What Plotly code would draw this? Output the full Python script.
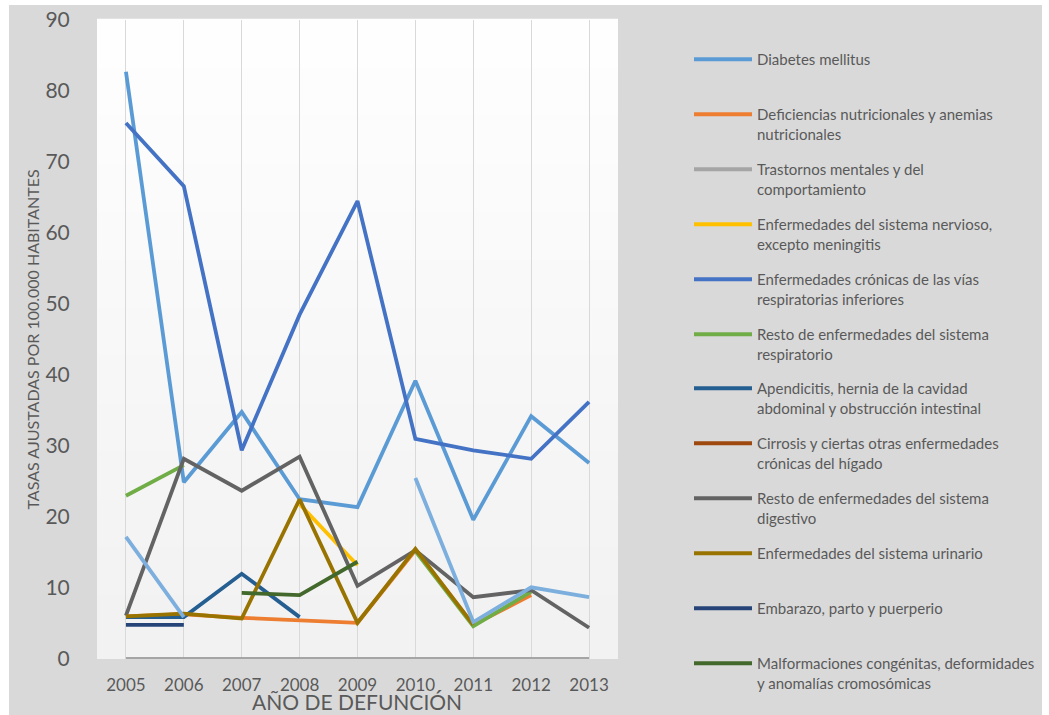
import plotly.graph_objects as go

# años de defunción
years = ["2005", "2006", "2007", "2008", "2009", "2010", "2011", "2012", "2013"]

# tasas ajustadas por 100.000 habitantes
diabetes = [82.7, 24.9, 34.8, 22.5, 21.4, 39.2, 19.6, 34.2, 27.6]
deficiencias = [6.0, 6.3, 5.8, 5.4, 5.1, 15.3, 4.8, 9.0, None]
trastornos = [0, 0, 0, 0, 0, 0, 0, 0, 0]
nervioso = [None, None, None, 21.8, 13.2, None, None, None, None]
cronicas_resp = [75.5, 66.6, 29.4, 48.5, 64.5, 31.0, 29.4, 28.2, 36.2]
resto_resp = [23.0, 27.3, None, None, None, 15.2, 4.6, 9.5, None]
apendicitis = [5.9, 5.9, 12.0, 5.9, None, None, None, None, None]
cirrosis = [None, None, None, None, None, None, None, None, None]
resto_digestivo = [6.1, 28.2, 23.7, 28.5, 10.3, 15.3, 8.7, 9.7, 4.4]
urinario = [6.0, 6.4, 5.7, 22.5, 5.1, 15.5, 4.8, None, None]
embarazo = [4.8, 4.8, None, None, None, None, None, None, None]
malformaciones = [None, None, 9.3, 9.0, 13.7, None, None, None, None]
otra_serie = [17.2, 5.9, None, None, None, 25.5, 5.2, 10.1, 8.7]

series = [
    ("Diabetes mellitus", diabetes, "#5b9bd5"),
    ("Deficiencias nutricionales y anemias<br>nutricionales", deficiencias, "#ed7d31"),
    ("Trastornos mentales y del<br>comportamiento", trastornos, "#a5a5a5"),
    ("Enfermedades del sistema nervioso,<br>excepto meningitis", nervioso, "#ffc000"),
    ("Enfermedades crónicas de las vías<br>respiratorias inferiores", cronicas_resp, "#4472c4"),
    ("Resto de enfermedades del sistema<br>respiratorio", resto_resp, "#70ad47"),
    ("Apendicitis, hernia de la cavidad<br>abdominal y obstrucción intestinal", apendicitis, "#255e91"),
    ("Cirrosis y ciertas otras enfermedades<br>crónicas del hígado", cirrosis, "#9e480e"),
    ("Resto de enfermedades del sistema<br>digestivo", resto_digestivo, "#636363"),
    ("Enfermedades del sistema urinario", urinario, "#997300"),
    ("Embarazo, parto y puerperio", embarazo, "#264478"),
    ("Malformaciones congénitas, deformidades<br>y anomalías cromosómicas", malformaciones, "#43682b"),
]

TXT = "#595959"
FONT = "Lato"

fig = go.Figure()

for i, (name, vals, col) in enumerate(series):
    label = name if "<br>" in name else name + "<br> "
    # the legend is split in two so that plotly does not make it scroll
    fig.add_trace(go.Scatter(
        x=years, y=vals, name=label, mode="lines",
        line=dict(color=col, width=3.8), cliponaxis=False,
        legendgroup="g%d" % i, connectgaps=False,
        legend="legend" if i < 6 else "legend2",
    ))

# serie 13 (no aparece en la leyenda del original)
fig.add_trace(go.Scatter(
    x=years, y=otra_serie, name="Serie 13", mode="lines",
    line=dict(color="#7cafdd", width=3.8), cliponaxis=False,
    showlegend=False,
))

# margins in px: plot area 97..618 x 20..659
L, R, T, B = 97, 1049 - 618, 20, 715 - 659
W, H = 1049 - L - R, 715 - T - B

def px_x(p):
    return (p - L) / W

def px_y(p):
    return (715 - B - p) / H

shapes = [dict(type="rect", xref="paper", yref="paper",
               x0=px_x(9), x1=px_x(1042), y0=px_y(715), y1=px_y(5),
               fillcolor="#d9d9d9", line=dict(width=0), layer="below")]
# gradient background of plot area, white top -> #f2f2f2 bottom
n = 40
for k in range(n):
    t = k / n
    c = int(242 + (255 - 242) * t)
    shapes.append(dict(type="rect", xref="x domain", yref="y domain",
                       x0=0, x1=1, y0=k / n, y1=(k + 1) / n + 0.002,
                       fillcolor="rgb(%d,%d,%d)" % (c, c, c),
                       line=dict(width=0), layer="below"))

leg = dict(xanchor="left", yanchor="top", bgcolor="rgba(0,0,0,0)",
           font=dict(size=15, color=TXT, family=FONT),
           valign="top", tracegroupgap=13, itemwidth=58)

fig.update_layout(
    width=1049, height=715,
    margin=dict(l=L, r=R, t=T, b=B, autoexpand=False),
    paper_bgcolor="white",
    plot_bgcolor="rgba(0,0,0,0)",
    font=dict(family=FONT, color=TXT),
    shapes=shapes,
    showlegend=True,
    legend=dict(leg, x=px_x(689), y=px_y(43)),
    legend2=dict(leg, x=px_x(689), y=px_y(372)),
    annotations=[
        dict(text="TASAS AJUSTADAS POR 100.000 HABITANTES", textangle=-90,
             xref="paper", yref="paper", x=px_x(32), y=0.5,
             xanchor="center", yanchor="middle", showarrow=False,
             font=dict(size=16, color=TXT, family=FONT)),
        dict(text="AÑO DE DEFUNCIÓN", xref="paper", yref="paper",
             x=px_x(357), y=px_y(701), xanchor="center", yanchor="middle",
             showarrow=False, font=dict(size=21, color=TXT, family=FONT)),
    ],
)

fig.update_xaxes(
    type="category", range=[-0.5, 8.5], showgrid=True, gridcolor="#d9d9d9",
    gridwidth=1.3, showline=False, zeroline=False,
    ticks="outside", ticklen=11, tickcolor="rgba(0,0,0,0)",
    tickfont=dict(size=17, color=TXT, family=FONT),
)
fig.update_yaxes(
    range=[0, 90], tickvals=list(range(0, 91, 10)), showgrid=False,
    zeroline=False, showline=False,
    ticks="outside", ticklen=22, tickcolor="rgba(0,0,0,0)",
    tickfont=dict(size=21, color=TXT, family=FONT),
)

fig.write_html("out.html", config={"displayModeBar": False},
               post_script="document.body.style.margin='0';")
